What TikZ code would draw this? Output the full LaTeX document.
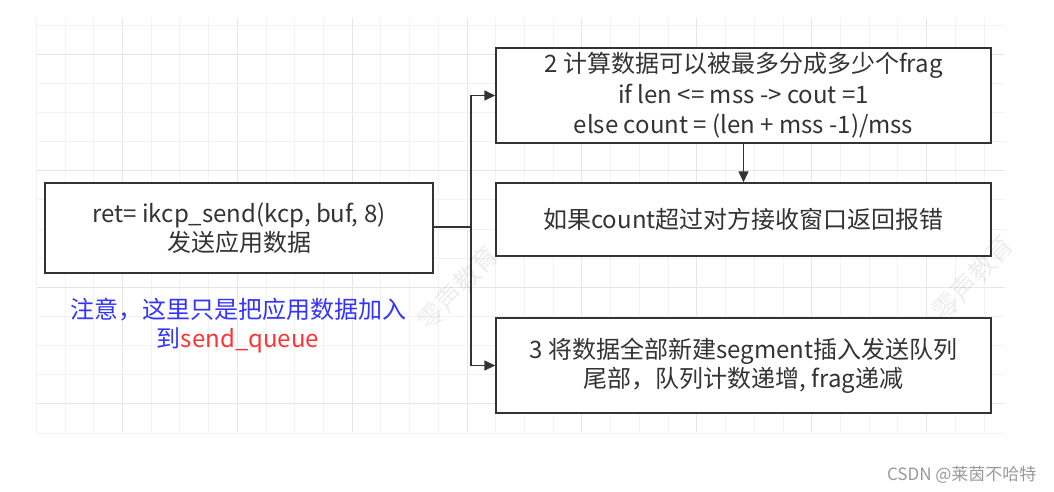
\documentclass[tikz,border=0pt]{standalone}
\usepackage{fontspec}
\setmainfont{Noto Sans CJK SC}
\usetikzlibrary{arrows.meta}
\definecolor{txt}{HTML}{333333}
\definecolor{edge}{HTML}{333333}
\definecolor{gminor}{HTML}{F2F2F2}
\definecolor{gmajor}{HTML}{E6E6E6}
\definecolor{noteblue}{HTML}{3333FF}
\definecolor{notered}{HTML}{FF3333}
\tikzset{
  box/.style={draw=edge, line width=1.4pt, fill=white, text=txt, align=center,
    inner sep=0pt, font=\fontsize{24}{29}\selectfont},
  conn/.style={draw=edge, line width=1.4pt},
  arr/.style={conn, -{Triangle[length=11pt,width=10pt]}},
  wm/.style={text=black, opacity=0.07, font=\fontsize{26}{26}\selectfont, rotate=47}
}
\begin{document}
\begin{tikzpicture}[x=1pt,y=-1pt]
\useasboundingbox (0,0) rectangle (1054,491);
% grid
\foreach \k in {-1,...,32} {
  \pgfmathsetmacro{\xx}{65+28.72*\k}
  \pgfmathtruncatemacro{\m}{mod(\k+2,4)}
  \ifnum\m=0 \draw[gmajor, line width=1pt] (\xx,18) -- (\xx,432);
  \else \draw[gminor, line width=1pt] (\xx,18) -- (\xx,432); \fi
}
\foreach \k in {0,...,14} {
  \pgfmathsetmacro{\yy}{25+29.15*\k}
  \pgfmathtruncatemacro{\m}{mod(\k+3,4)}
  \ifnum\m=0 \draw[gmajor, line width=1pt] (37,\yy) -- (1005,\yy);
  \else \draw[gminor, line width=1pt] (37,\yy) -- (1005,\yy); \fi
}
% boxes
\node[box, minimum width=388pt, minimum height=90pt] (a) at (239,228)
  {ret= ikcp\_send(kcp, buf, 8)\\发送应用数据};
\node[box, minimum width=495pt, minimum height=95pt, font=\fontsize{24}{30.5}\selectfont] (b1) at (743.5,95.5)
  {2 计算数据可以被最多分成多少个frag\\if len <= mss -> cout =1\\else count = (len + mss -1)/mss};
\node[box, minimum width=495pt, minimum height=73pt] (b2) at (743.5,219.5)
  {如果count超过对方接收窗口返回报错};
\node[box, minimum width=495pt, minimum height=95pt] (b3) at (743.5,365.5)
  {3 将数据全部新建segment插入发送队列\\尾部，队列计数递增, frag递减};
% note
\node[align=center, text=noteblue, font=\fontsize{24}{29}\selectfont] (note) at (238,326)
  {注意，这里只是把应用数据加入\\到{\color{notered}send\_queue}};
% connectors
\coordinate (j) at (471,227);
\draw[conn] (a.east |- j) -- (j);
\draw[arr] (j) |- (b1.west);
\draw[arr] (j) |- (b3.west);
\draw[arr] (b1.south) -- (b2.north);
% watermark
\node[wm] (w1) at (458,288) {零声教育};
\node[wm] (w2) at (973,278) {零声教育};
% signature
\node[text=black!40, font=\fontsize{17}{17}\selectfont, anchor=east] (sig) at (1040,475) {CSDN @莱茵不哈特};
\end{tikzpicture}
\end{document}
